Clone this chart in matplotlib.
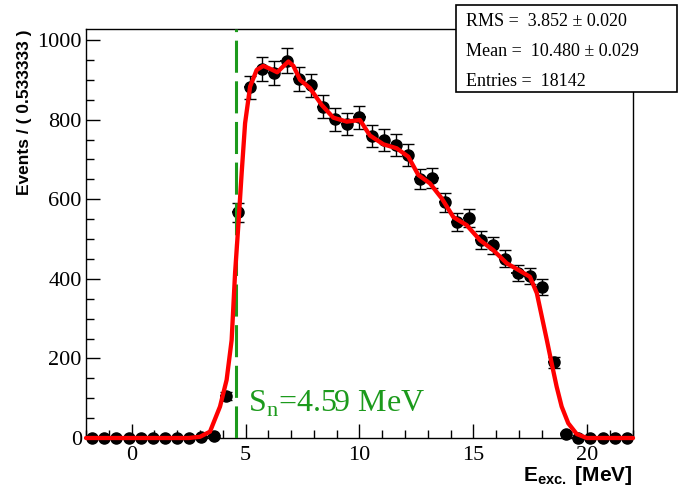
import matplotlib
matplotlib.use('Agg')
import matplotlib.pyplot as plt
from matplotlib.patches import Rectangle
from matplotlib.ticker import MultipleLocator
import numpy as np

# histogram binning (45 bins of 0.533333 MeV from -2 to 22)
x_lo, x_hi, n_bins = -2.0, 22.0, 45
bin_w = (x_hi - x_lo) / n_bins
centers = x_lo + bin_w * (np.arange(n_bins) + 0.5)

counts = [0, 0, 0, 0, 0, 0, 0, 0, 0, 2, 6, 105, 567, 881, 928, 918, 948, 902,
          886, 833, 801, 789, 806, 758, 748, 737, 711, 650, 653, 592, 543, 553,
          498, 484, 451, 414, 408, 379, 190, 11, 0, 0, 0, 0, 0]

# fit curve
fit_x = [-2.0, 2.5, 3.0, 3.44, 3.88, 4.17, 4.39, 4.54, 4.69, 4.83, 4.98, 5.2,
         5.49, 5.78, 6.07, 6.39, 6.62, 6.88, 7.1, 7.39, 7.83, 8.34, 8.85, 9.44,
         10.02, 10.46, 11.05, 11.63, 12.14, 12.58, 13.09, 13.61, 14.12, 14.7,
         15.29, 15.87, 16.46, 17.04, 17.48, 17.78, 18.0, 18.22, 18.43, 18.65,
         18.87, 19.16, 19.53, 19.97, 22.0]
fit_y = [0, 0, 3, 16, 79, 146, 246, 414, 540, 666, 791, 883,
         925, 935, 928, 919, 932, 946, 935, 900, 879, 837, 805, 795,
         799, 760, 738, 728, 707, 661, 640, 602, 555, 535,
         497, 472, 439, 420, 405, 364, 305, 246, 188, 129,
         79, 37, 10, 0, 0]

s_n = 4.59
stats_lines = ['RMS =  3.852 \u00b1 0.020',
               'Mean =  10.480 \u00b1 0.029',
               'Entries =  18142']

serif = 'Liberation Serif'
sans = 'Liberation Sans'
green = '#1c9a1c'

fig = plt.figure(figsize=(6.81, 4.90), dpi=100)
ax = fig.add_axes([86/681, 52/490, 547/681, 408.7/490])

cnt = np.array(counts, dtype=float)
err = np.sqrt(cnt)
# horizontal bin-width bars (no caps)
ebx = ax.errorbar(centers, cnt, xerr=bin_w/2, fmt='none', ecolor='black',
                  elinewidth=1.3, zorder=2)
# vertical poisson errors with small caps and the markers
eby = ax.errorbar(centers, cnt, yerr=np.where(cnt > 0, err, 0), fmt='o',
                  color='black', ms=8, elinewidth=1.0, capsize=4, capthick=1.0,
                  zorder=3)
for cont in (ebx, eby):
    for a in cont.get_children():
        a.set_clip_on(False)

ax.axvline(s_n, color=green, lw=2.2, linestyle=(0, (10.5, 2.8)), zorder=4)
ax.plot(fit_x, fit_y, color='red', lw=3.1, solid_joinstyle='round',
        solid_capstyle='round', zorder=5, clip_on=False)

ax.text(5.1, 66, 'S$_{\\mathregular{n}}$=4.59 MeV', color=green,
        fontsize=23, family=serif, va='baseline', ha='left')

ax.set_xlim(x_lo, x_hi)
ax.set_ylim(0, 1027)
ax.xaxis.set_major_locator(MultipleLocator(5))
ax.xaxis.set_minor_locator(MultipleLocator(1))
ax.yaxis.set_major_locator(MultipleLocator(200))
ax.yaxis.set_minor_locator(MultipleLocator(50))
ax.tick_params(which='both', direction='in', top=False, right=False)
ax.tick_params(which='major', length=10, width=1)
ax.tick_params(which='minor', length=5.5, width=1)
ax.tick_params(axis='y', pad=3)
ax.tick_params(axis='x', pad=6)
for lab in ax.get_xticklabels() + ax.get_yticklabels():
    lab.set_family(serif)
    lab.set_fontsize(16)
for sp in ax.spines.values():
    sp.set_linewidth(1.0)

ax.set_ylabel('Events / ( 0.533333 )', family=sans, fontweight='bold',
              fontsize=12.5, loc='top')
ax.yaxis.set_label_coords(-0.099, 1.0)
ax.set_xlabel('E$_{\\mathregular{exc.}}$ [MeV]', family=sans, fontweight='bold',
              fontsize=15, loc='right')
ax.xaxis.set_label_coords(1.0, -0.063)

# stats box
box = Rectangle((456/681, 1 - 92/490), 221/681, 87/490, transform=fig.transFigure,
                facecolor='white', edgecolor='black', lw=1.2, zorder=10)
fig.add_artist(box)
for i, line in enumerate(stats_lines):
    fig.text(466/681, 1 - (21 + 30.5*i)/490, line, family=serif, fontsize=13,
             va='center', ha='left', zorder=11)

fig.savefig('out.png', dpi=100)
